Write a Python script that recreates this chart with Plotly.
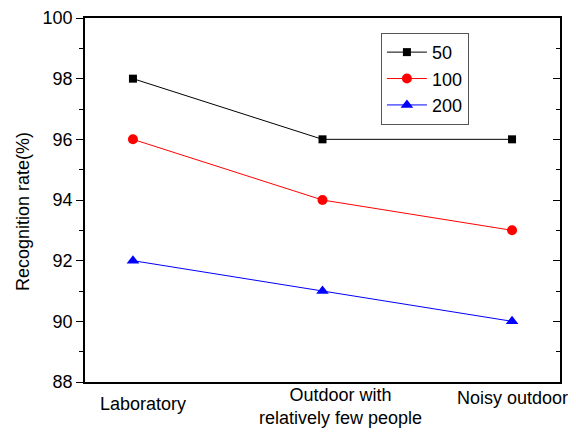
import plotly.graph_objects as go

categories = ["Laboratory", "Outdoor with<br>relatively few people", "Noisy outdoor"]
series_names = ["50", "100", "200"]
values_50 = [98, 96, 96]
values_100 = [96, 94, 93]
values_200 = [92, 91, 90]
y_ticks = [88, 90, 92, 94, 96, 98, 100]
y_title = "Recognition rate(%)"

xi = list(range(len(categories)))
FONT = "Liberation Sans, Arial, sans-serif"

fig = go.Figure()
styles = [
    (values_50, "black", "square", 8),
    (values_100, "red", "circle", 10),
    (values_200, "blue", "triangle-up", 11),
]
for name, (vals, col, sym, sz) in zip(series_names, styles):
    fig.add_trace(go.Scatter(
        x=xi, y=vals, name=name, mode="lines+markers",
        line=dict(color=col, width=1),
        marker=dict(color=col, symbol=sym, size=sz),
    ))

# invisible trace to activate right mirror axis
fig.add_trace(go.Scatter(x=[None], y=[None], yaxis="y2", showlegend=False, hoverinfo="skip"))

label_shift = [10, 18, 0]
label_y = [-0.028, -0.003, -0.01]
for i, lab in enumerate(categories):
    fig.add_annotation(x=xi[i], y=label_y[i], xref="x", yref="paper", text=lab,
                       showarrow=False, xshift=label_shift[i], yanchor="top",
                       font=dict(family=FONT, size=18, color="black"))

fig.add_annotation(x=0, y=0.5, xref="paper", yref="paper", text=y_title,
                   textangle=-90, showarrow=False, xshift=-62, yshift=-12,
                   xanchor="center", yanchor="middle",
                   font=dict(family=FONT, size=18, color="black"))

fig.update_layout(
    width=568, height=431,
    margin=dict(l=77, r=16, t=10, b=57, autoexpand=False),
    paper_bgcolor="white", plot_bgcolor="white",
    font=dict(family=FONT, size=18, color="black"),
    showlegend=True,
    legend=dict(x=0.623, y=0.959, xanchor="left", yanchor="top",
                bordercolor="#555", borderwidth=1, bgcolor="white",
                font=dict(size=18), tracegroupgap=0, itemwidth=40),
    xaxis=dict(range=[-0.253, 2.253], tickvals=xi, showticklabels=False,
               ticks="", showgrid=False, zeroline=False,
               showline=True, linecolor="black", linewidth=1.5, mirror=True),
    yaxis=dict(range=[88, 100], tickvals=y_ticks,
               ticks="outside", ticklen=7, tickwidth=1.2, tickcolor="black",
               minor=dict(dtick=1, ticks="outside", ticklen=4, tickcolor="black"),
               showgrid=False, zeroline=False,
               showline=True, linecolor="black", linewidth=1.5,
               tickfont=dict(size=18)),
    yaxis2=dict(range=[88, 100], overlaying="y", side="right",
                tickvals=y_ticks, showticklabels=False,
                ticks="inside", ticklen=7, tickwidth=1.2, tickcolor="black",
                minor=dict(dtick=1, ticks="inside", ticklen=4, tickcolor="black"),
                showgrid=False, zeroline=False, showline=True, linecolor="black", linewidth=1.5),
)

fig.write_html("out.html")
